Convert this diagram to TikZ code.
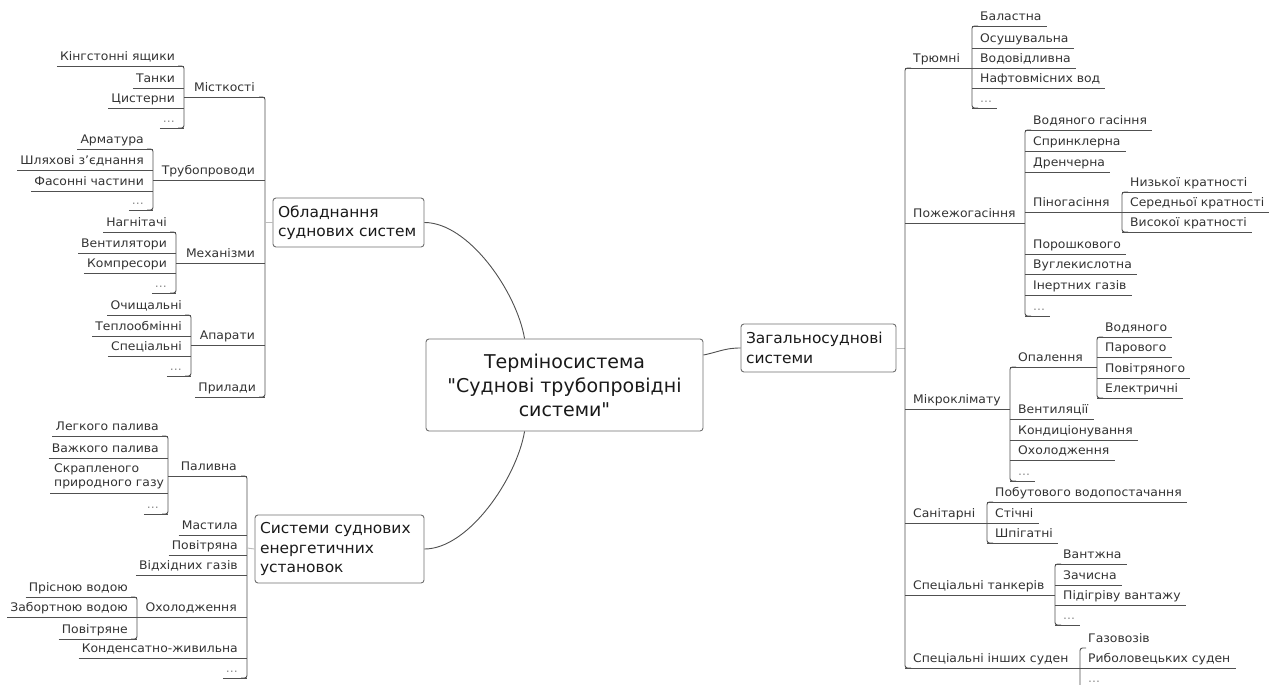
\documentclass[tikz,border=0pt]{standalone}
\usepackage{fontspec}
\setmainfont{DejaVu Sans}
\newfontfamily\leaffont{DejaVu Sans}[FakeStretch=1.05]
\newfontfamily\topicfont{DejaVu Sans}[FakeStretch=1.03]
\newfontfamily\centralfont{DejaVu Sans}[Ligatures=TeXOff]
\definecolor{lnc}{HTML}{505050}
\definecolor{txc}{HTML}{333333}
\definecolor{boxc}{HTML}{707070}
\definecolor{stubc}{HTML}{BBBBBB}
\tikzset{
 lf/.style={font=\leaffont\fontsize{11.8}{14}\selectfont, text=txc, inner sep=0pt},
 dotsty/.style={lf, text=black!45},
 ln/.style={draw=lnc, line width=0.9pt},
 topic/.style={draw=boxc, rounded corners=3pt, line width=0.9pt, text=black!90,
   font=\topicfont\fontsize{15}{19.5}\selectfont, align=left, inner sep=0pt},
 central/.style={topic, font=\centralfont\fontsize{19}{24}\selectfont, align=center},
 curve/.style={draw=lnc, line width=0.9pt},
 stub/.style={draw=stubc, line width=0.9pt}
}
% left leaf: name, text, bracket x, underline y
\newcommand\lleaf[5][lf]{\node[#1,anchor=base east] (#2) at ({#4-9},{#5-5.5}) {#3};
 \draw[ln] ([xshift=-3pt,yshift=-5.5pt]#2.base west) -- (#4,#5);}
% left parent: name, text, child bracket x, parent bracket x, underline y
\newcommand\lpar[5]{\node[lf,anchor=base east] (#1) at ({#4-10},{#5-5.5}) {#2};
 \draw[ln] (#3,#5) -- (#4,#5);}
% right leaf
\newcommand\rleaf[5][lf]{\node[#1,anchor=base west] (#2) at ({#4+8},{#5-5.5}) {#3};
 \draw[ln] (#4,#5) -- ([xshift=5pt,yshift=-5.5pt]#2.base east);}
% right parent: name, text, parent bracket x, child bracket x, underline y
\newcommand\rpar[5]{\node[lf,anchor=base west] (#1) at ({#3+8},{#5-5.5}) {#2};
 \draw[ln] (#3,#5) -- (#4,#5);}
\newcommand\lbr[3]{\draw[ln,rounded corners=2.5pt] ({#1-6},#2) -- (#1,#2) -- (#1,#3) -- ({#1-6},#3);}
\newcommand\rbr[3]{\draw[ln,rounded corners=2.5pt] ({#1+6},#2) -- (#1,#2) -- (#1,#3) -- ({#1+6},#3);}

\begin{document}
\begin{tikzpicture}[x=1pt,y=-1pt]
\fill[white] (0,0) rectangle (1272,685);
\clip (0,0) rectangle (1272,685);

%================ LEFT TOP
\lbr{184}{66}{128}
\lleaf{a1}{Кінгстонні ящики}{184}{66}
\lleaf{a2}{Танки}{184}{88}
\lleaf{a3}{Цистерни}{184}{108}
\lleaf[dotsty]{a4}{...}{184}{128}
\lpar{A}{Місткості}{184}{265}{97}

\lbr{153}{149}{210}
\lleaf{b1}{Арматура}{153}{149}
\lleaf{b2}{Шляхові з’єднання}{153}{170}
\lleaf{b3}{Фасонні частини}{153}{191}
\lleaf[dotsty]{b4}{...}{153}{210}
\lpar{B}{Трубопроводи}{153}{265}{180}

\lbr{176}{232}{293}
\lleaf{c1}{Нагнітачі}{176}{232}
\lleaf{c2}{Вентилятори}{176}{253}
\lleaf{c3}{Компресори}{176}{273}
\lleaf[dotsty]{c4}{...}{176}{293}
\lpar{C}{Механізми}{176}{265}{263}

\lbr{191}{315}{376}
\lleaf{d1}{Очищальні}{191}{315}
\lleaf{d2}{Теплообмінні}{191}{336}
\lleaf{d3}{Спеціальні}{191}{356}
\lleaf[dotsty]{d4}{...}{191}{376}
\lpar{D}{Апарати}{191}{265}{345}

\lleaf{E}{Прилади}{265}{397}
\lbr{265}{97}{397}

\node[topic, minimum width=151pt, minimum height=49pt, text width=141pt] (obl) at (348.5,222.5) {Обладнання\\суднових систем};
\draw[stub] (265,222.5) -- (obl.west);

%================ LEFT BOTTOM
\lbr{168}{436}{514}
\lleaf{f1}{Легкого палива}{168}{436}
\lleaf{f2}{Важкого палива}{168}{458}
\node[lf, anchor=south west, align=left] (f3) at (54,489) {Скрапленого\\природного газу};
\draw[ln] ([xshift=-4pt,yshift=-4pt]f3.south west) -- (168,493);
\lleaf[dotsty]{f4}{...}{168}{514}
\lpar{F}{Паливна}{168}{247}{476}
\lleaf{g1}{Мастила}{247}{535}
\lleaf{g2}{Повітряна}{247}{555}
\lleaf{g3}{Відхідних газів}{247}{575}
\lbr{137}{597}{639}
\lleaf{h1}{Прісною водою}{137}{597}
\lleaf{h2}{Забортною водою}{137}{617}
\lleaf{h3}{Повітряне}{137}{639}
\lpar{H}{Охолодження}{137}{247}{617}
\lleaf{g4}{Конденсатно-живильна}{247}{658}
\lleaf[dotsty]{g5}{...}{247}{678}
\lbr{247}{476}{678}

\node[topic, minimum width=169pt, minimum height=68pt, text width=159pt] (sys) at (339.5,549) {Системи суднових\\енергетичних\\установок};
\draw[stub] (247,548) -- (sys.west);

%================ CENTER
\node[central, minimum width=277pt, minimum height=92pt] (c) at (564.5,385) {Терміносистема\\"Суднові трубопровідні\\системи"};

\node[topic, minimum width=155pt, minimum height=48pt, text width=145pt] (zag) at (818.5,348) {Загальносуднові\\системи};

\draw[curve] (obl.east) .. controls +(44,0) and +(-8,-47) .. ([xshift=99pt]c.north west);
\draw[curve] ([xshift=99pt]c.south west) .. controls +(-8,47) and +(44,0) .. (sys.east);
\draw[curve] ([yshift=30pt]c.east) .. controls +(15,-3) and +(-16,0) .. (zag.west);
\draw[stub] (zag.east) -- (905,348);

%================ RIGHT
\rpar{T}{Трюмні}{905}{972}{68}
\rbr{972}{26}{108}
\rleaf{t1}{Баластна}{972}{26}
\rleaf{t2}{Осушувальна}{972}{48}
\rleaf{t3}{Водовідливна}{972}{68}
\rleaf{t4}{Нафтовмісних вод}{972}{88}
\rleaf[dotsty]{t5}{...}{972}{108}

\rpar{P}{Пожежогасіння}{905}{1025}{223}
\rbr{1025}{130}{316}
\rleaf{p1}{Водяного гасіння}{1025}{130}
\rleaf{p2}{Спринклерна}{1025}{151}
\rleaf{p3}{Дренчерна}{1025}{172}
\rpar{PN}{Піногасіння}{1025}{1122}{212}
\rbr{1122}{192}{232}
\rleaf{n1}{Низької кратності}{1122}{192}
\rleaf{n2}{Середньої кратності}{1122}{212}
\rleaf{n3}{Високої кратності}{1122}{232}
\rleaf{p4}{Порошкового}{1025}{254}
\rleaf{p5}{Вуглекислотна}{1025}{274}
\rleaf{p6}{Інертних газів}{1025}{295}
\rleaf[dotsty]{p7}{...}{1025}{316}

\rpar{M}{Мікроклімату}{905}{1010}{409}
\rbr{1010}{367}{481}
\rpar{MO}{Опалення}{1010}{1097}{367}
\rbr{1097}{337}{398}
\rleaf{o1}{Водяного}{1097}{337}
\rleaf{o2}{Парового}{1097}{357}
\rleaf{o3}{Повітряного}{1097}{378}
\rleaf{o4}{Електричні}{1097}{398}
\rleaf{m2}{Вентиляції}{1010}{419}
\rleaf{m3}{Кондиціонування}{1010}{440}
\rleaf{m4}{Охолодження}{1010}{460}
\rleaf[dotsty]{m5}{...}{1010}{481}

\rpar{S}{Санітарні}{905}{987}{523}
\rbr{987}{502}{543}
\rleaf{s1}{Побутового водопостачання}{987}{502}
\rleaf{s2}{Стічні}{987}{523}
\rleaf{s3}{Шпігатні}{987}{543}

\rpar{K}{Спеціальні танкерів}{905}{1055}{595}
\rbr{1055}{564}{625}
\rleaf{k1}{Вантжна}{1055}{564}
\rleaf{k2}{Зачисна}{1055}{585}
\rleaf{k3}{Підігріву вантажу}{1055}{605}
\rleaf[dotsty]{k4}{...}{1055}{625}

\rpar{R}{Спеціальні інших суден}{905}{1080}{668}
\rbr{1080}{648}{690}
\node[lf,anchor=base west] (r1) at (1088,642.5) {Газовозів};
\rleaf{r2}{Риболовецьких суден}{1080}{668}
\rleaf[dotsty]{r3}{...}{1080}{688}

\rbr{905}{68}{668}
\end{tikzpicture}
\end{document}
